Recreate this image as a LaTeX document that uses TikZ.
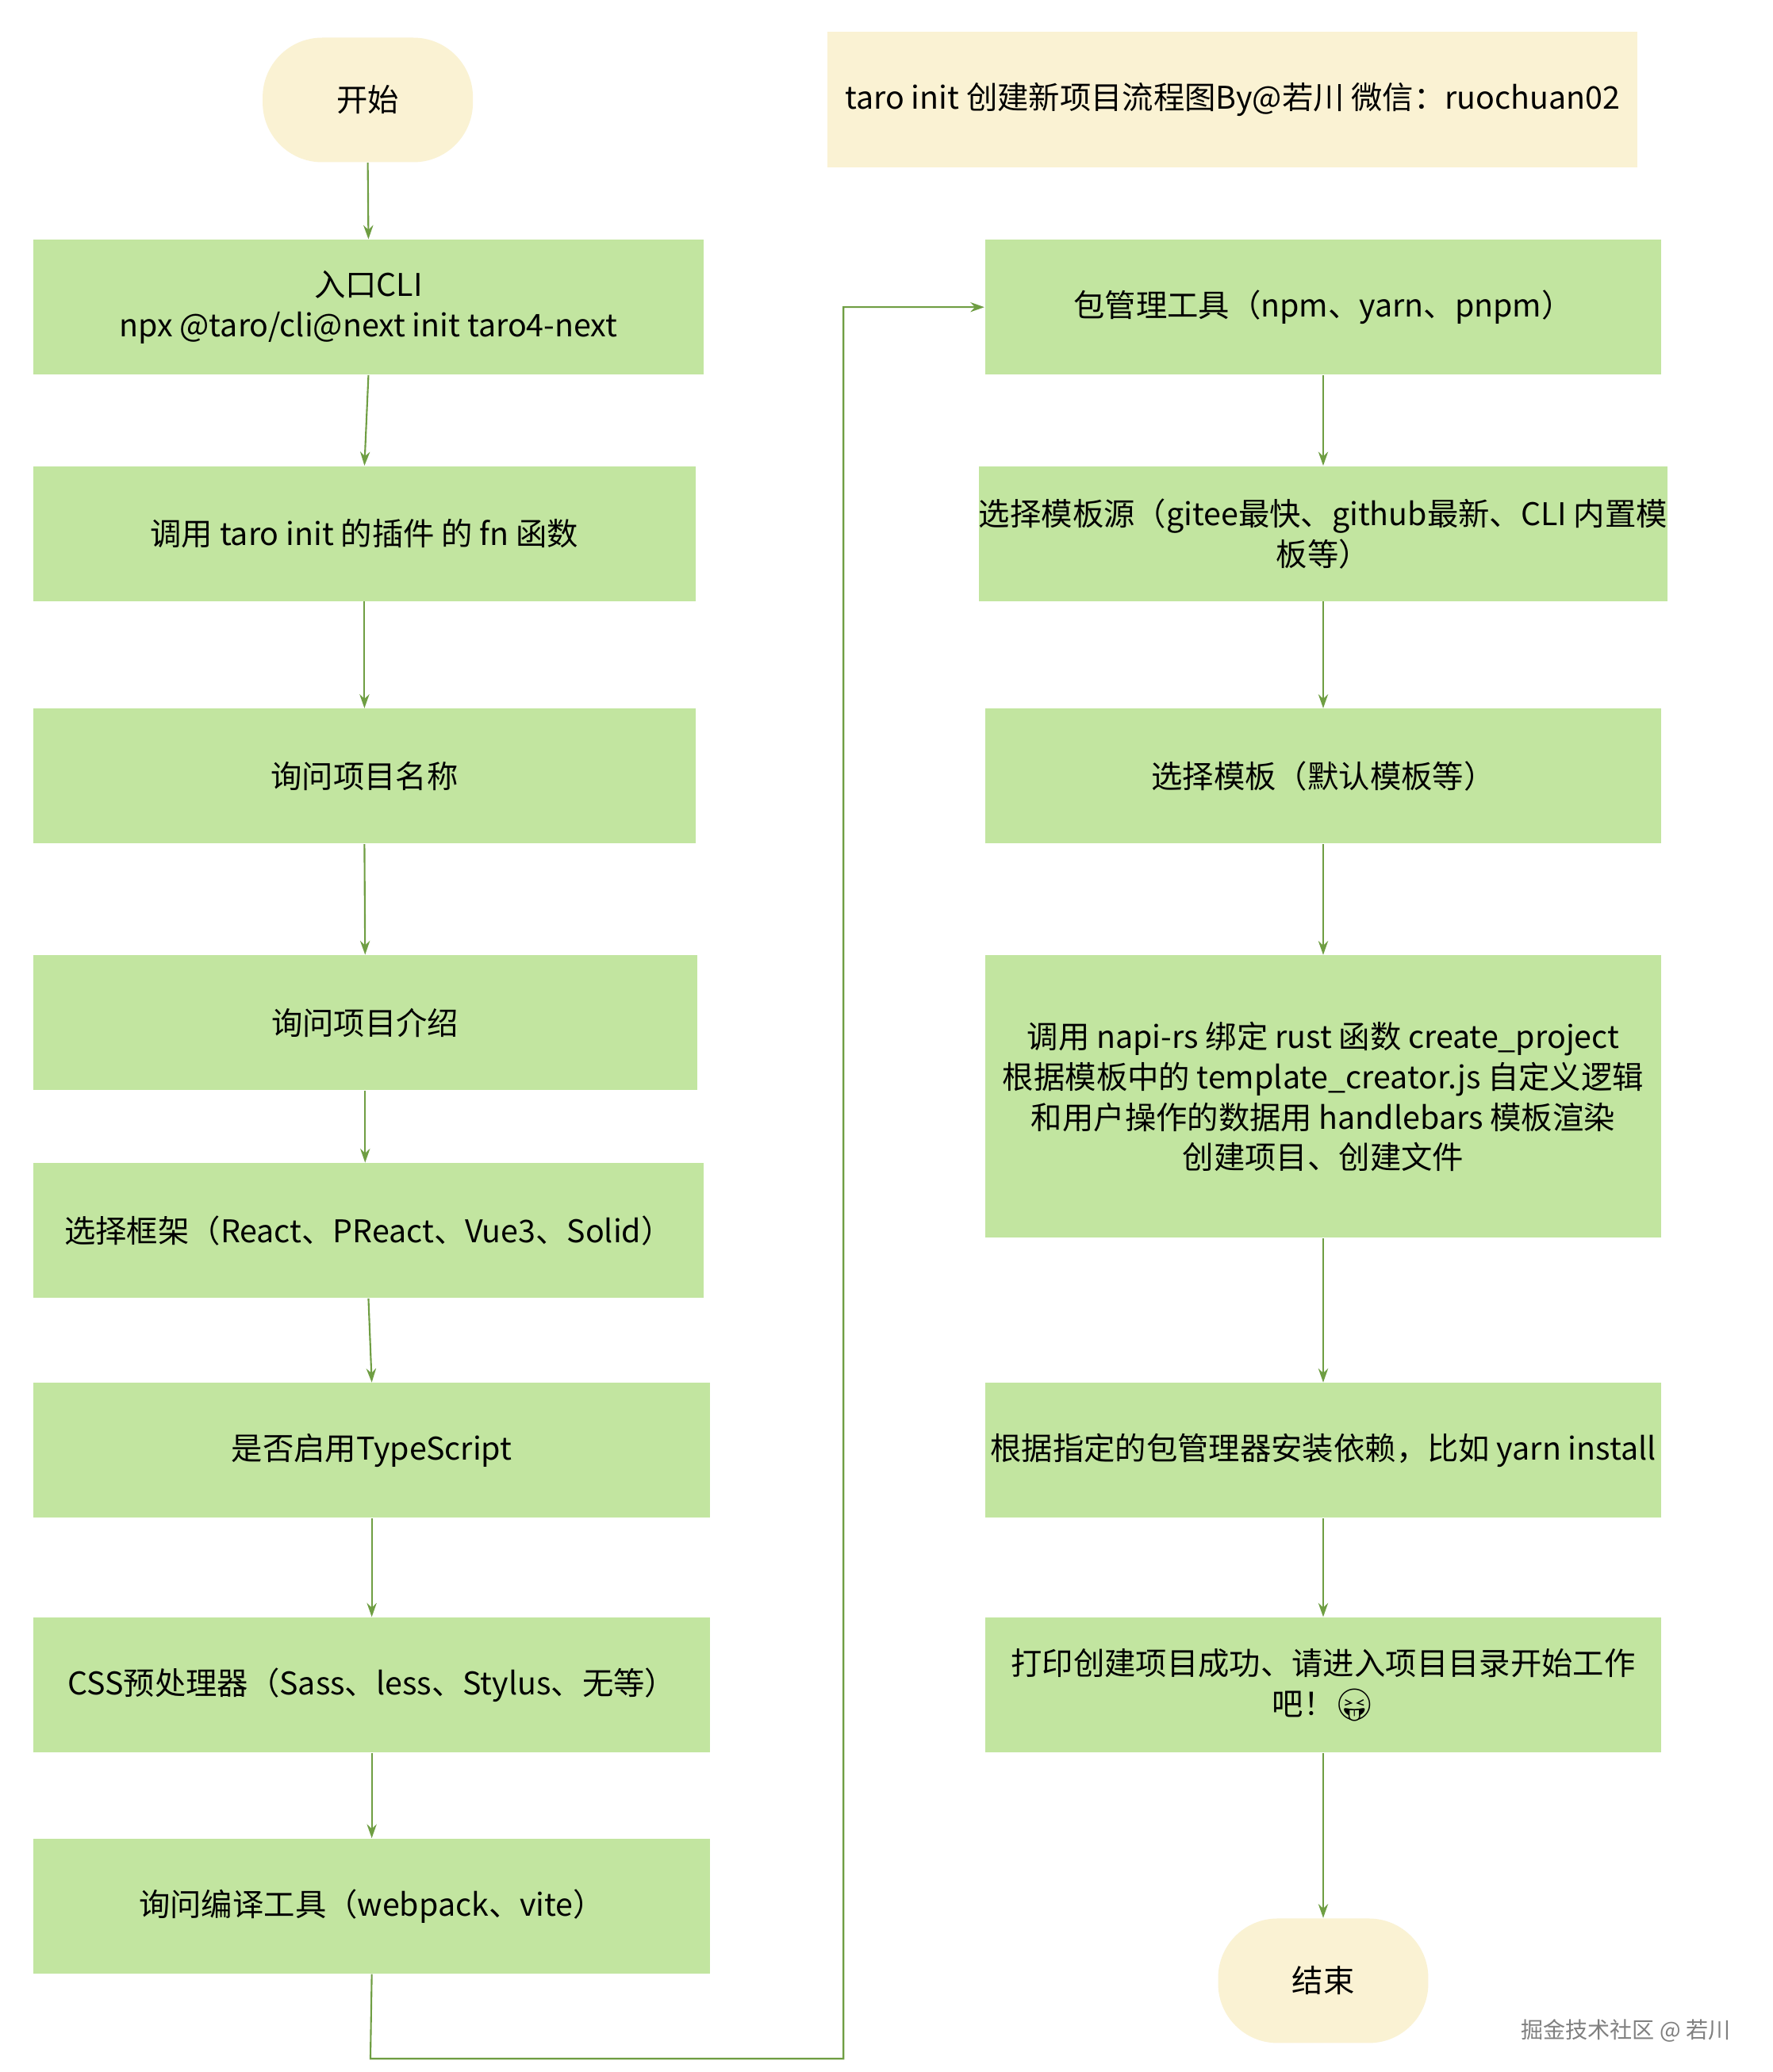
\documentclass[tikz,border=0pt]{standalone}
\usepackage{fontspec}
\setmainfont{Noto Sans CJK SC}
\newfontfamily\emo{Noto Emoji}
\usetikzlibrary{arrows.meta}
\definecolor{gfill}{HTML}{C2E5A0}
\definecolor{yfill}{HTML}{FAF2D3}
\definecolor{lcol}{HTML}{6F9E43}
\tikzset{
 gbox/.style={fill=gfill,inner sep=0pt,align=center,minimum height=1.70cm,font=\fontsize{11.2}{14.5}\selectfont},
 lw/.style={gbox,minimum width=8.45cm},
 rw/.style={gbox,minimum width=8.53cm},
 ybox/.style={fill=yfill,inner sep=0pt,align=center,font=\fontsize{11.2}{14.5}\selectfont},
 pill/.style={ybox,rounded corners=0.75cm,minimum width=2.65cm,minimum height=1.57cm},
 conn/.style={draw=lcol,line width=0.6pt,-{Stealth[length=5pt,width=3.5pt]}}
}
\begin{document}
\begin{tikzpicture}[x=0.0168cm,y=-0.0168cm]
\useasboundingbox[fill=white] (0,0) rectangle (1330,1555);
\node[pill] (start) at (276,75) {开始};
\node[ybox,minimum width=10.21cm,minimum height=1.71cm] (title) at (925,75) {taro init 创建新项目流程图By@若川 微信：ruochuan02};
\node[lw] (cli) at (276.5,230.5) {入口CLI\\npx @taro/cli@next init taro4-next};
\node[gbox,minimum width=8.35cm] (fn) at (273.5,400.5) {调用 taro init 的插件 的 fn 函数};
\node[gbox,minimum width=8.35cm] (name) at (273.5,582.5) {询问项目名称};
\node[gbox,minimum width=8.37cm] (desc) at (274,767.5) {询问项目介绍};
\node[lw] (fw) at (276.5,923.5) {选择框架（React、PReact、Vue3、Solid）};
\node[rw] (ts) at (279,1088.5) {是否启用TypeScript};
\node[rw] (css) at (279,1264.5) {CSS预处理器（Sass、less、Stylus、无等）};
\node[rw] (cmp) at (279,1430.5) {询问编译工具（webpack、vite）};
\node[rw] (pm) at (993,230.5) {包管理工具（npm、yarn、pnpm）};
\node[rw] (src) at (993,400.5) {选择模板源（gitee最快、github最新、CLI 内置模\\板等）};
\node[rw] (tpl) at (993,582.5) {选择模板（默认模板等）};
\node[rw,minimum height=3.56cm] (napi) at (993,823) {调用 napi-rs 绑定 rust 函数 create\_project\\根据模板中的 template\_creator.js 自定义逻辑\\和用户操作的数据用 handlebars 模板渲染\\创建项目、创建文件};
\node[rw] (inst) at (993,1088.5) {根据指定的包管理器安装依赖，比如 yarn install};
\node[rw] (done) at (993,1264.5) {打印创建项目成功、请进入项目目录开始工作\\吧！{\emo 😝}};
\node[pill] (end) at (993,1486.5) {结束};
\node[anchor=east,text=gray,font=\fontsize{8}{10}\selectfont] (wm) at (1306,1524) {掘金技术社区 @ 若川};
\coordinate (b1) at (278,1545);
\coordinate (b2) at (633,1545);
\coordinate (b3) at (633,230.5);
\draw[conn] (start.south) -- (cli.north);
\draw[conn] (cli.south) -- (fn.north);
\draw[conn] (fn.south) -- (name.north);
\draw[conn] (name.south) -- (desc.north);
\draw[conn] (desc.south) -- (desc.south|-fw.north);
\draw[conn] (fw.south) -- (ts.north);
\draw[conn] (ts.south) -- (css.north);
\draw[conn] (css.south) -- (cmp.north);
\draw[conn] (cmp.south) -- (b1) -- (b2) -- (b3) -- (pm.west);
\draw[conn] (pm.south) -- (src.north);
\draw[conn] (src.south) -- (tpl.north);
\draw[conn] (tpl.south) -- (napi.north);
\draw[conn] (napi.south) -- (inst.north);
\draw[conn] (inst.south) -- (done.north);
\draw[conn] (done.south) -- (end.north);
\end{tikzpicture}
\end{document}
